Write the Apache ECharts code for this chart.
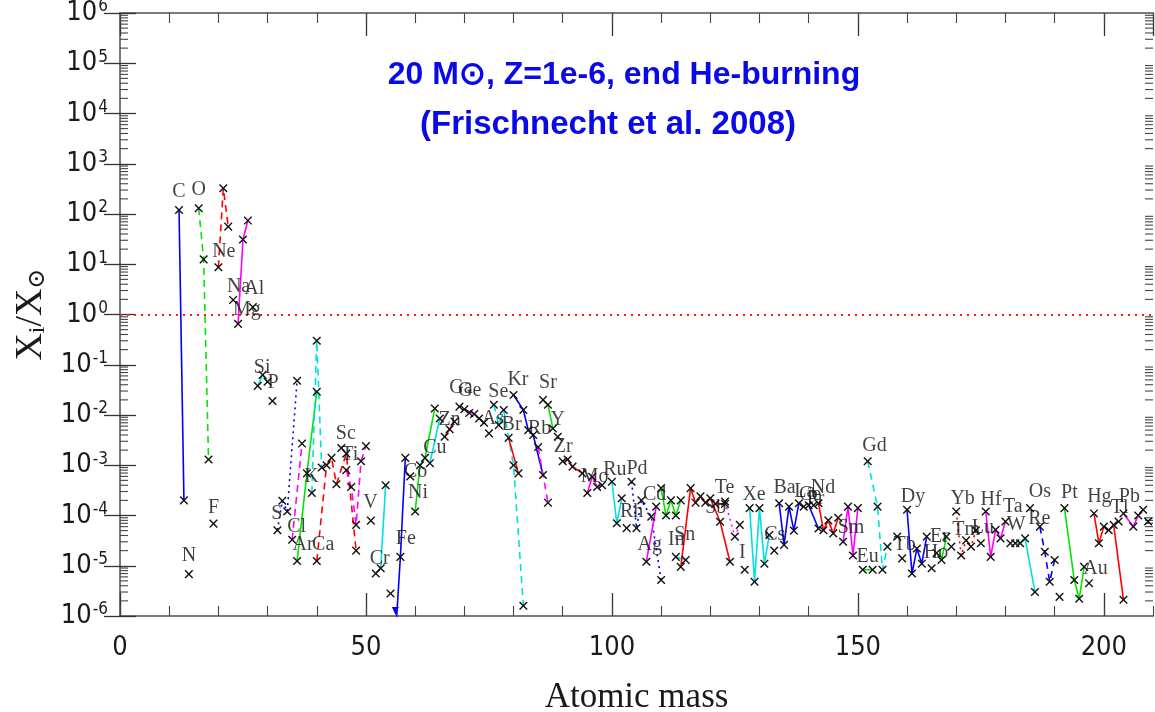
<!DOCTYPE html>
<html>
<head>
<meta charset="utf-8">
<script src="https://cdn.jsdelivr.net/npm/echarts@6/dist/echarts.min.js"></script>
<style>
html, body { margin: 0; padding: 0; background: #fff; }
#chart { width: 1155px; height: 712px; }
</style>
</head>
<body>
<div id="chart"></div>
<script>
// Element symbols, in order of atomic number
const elementNames = [
  'C', 'N', 'O', 'F', 'Ne', 'Na', 'Mg', 'Al', 'Si', 'P',
  'S', 'Cl', 'Ar', 'K', 'Ca', 'Sc', 'Ti', 'V', 'Cr', 'Mn',
  'Fe', 'Co', 'Ni', 'Cu', 'Zn', 'Ga', 'Ge', 'As', 'Se', 'Br',
  'Kr', 'Rb', 'Sr', 'Y', 'Zr', 'Mo', 'Ru', 'Rh', 'Pd', 'Ag',
  'Cd', 'In', 'Sn', 'Sb', 'Te', 'I', 'Xe', 'Cs', 'Ba', 'La',
  'Ce', 'Pr', 'Nd', 'Sm', 'Eu', 'Gd', 'Tb', 'Dy', 'Ho', 'Er',
  'Tm', 'Yb', 'Lu', 'Hf', 'Ta', 'W', 'Re', 'Os', 'Ir', 'Pt',
  'Au', 'Hg', 'Tl', 'Pb', 'Bi'
];

// Mass numbers of the plotted isotopes of each element
const massNumbers = [
  [12, 13], [14], [16, 17, 18], [19], [20, 21, 22], [23], [24, 25, 26], [27], [28, 29, 30], [31],
  [32, 33, 34, 36], [35, 37], [36, 38, 40], [39, 40, 41], [40, 42, 43, 44, 46, 48], [45], [46, 47, 48, 49, 50], [51], [52, 53, 54], [55],
  [56, 57, 58], [59], [60, 61, 62, 64], [63, 65], [66, 67, 68], [69, 71], [70, 72, 73, 74], [75], [76, 77, 78, 80, 82], [79, 81],
  [80, 82, 83, 84, 86], [85, 87], [86, 87, 88], [89], [90, 91, 92, 94], [95, 96, 97, 98], [100, 101, 102], [103], [104, 105, 106, 108, 110], [107, 109],
  [110, 111, 112, 113, 114], [113, 115], [114, 116, 117, 118, 119, 120, 122, 124], [121, 123], [123, 125, 126], [127], [128, 129, 130, 131, 132], [133], [134, 135, 136, 137, 138], [139],
  [140, 142], [141], [142, 143, 144, 145, 146], [147, 148, 149, 150], [151, 153], [152, 154, 155, 156, 158], [159], [160, 161, 162, 163, 164], [165], [166, 167, 168],
  [169], [170, 171, 172, 173, 174], [175], [176, 177, 178, 179, 180], [181], [182, 183, 184, 186], [185], [187, 188, 189, 190], [191], [192, 194, 195, 196],
  [197], [198, 199, 200, 201, 202, 204], [203], [204, 206, 207, 208], [209]
];

// Abundance ratios X_i / X_sun, same layout as massNumbers
const ratios = [
  [120, 2.0e-4], [6.8e-6], [130, 12.5, 1.3e-3], [6.9e-5], [8.7, 325, 56], [1.95], [0.65, 31, 74], [1.4], [0.038, 0.063, 0.046], [0.019],
  [5.1e-5, 1.96e-4, 1.2e-4, 0.048], [3.3e-5, 2.7e-3], [1.24e-5, 6.9e-4, 0.029], [2.8e-4, 0.3, 9e-4], [1.24e-5, 1.0e-3, 1.4e-3, 4.2e-4, 1.7e-3, 2e-5], [2.2e-3], [8e-4, 3.7e-4, 6.5e-5, 1.2e-3, 2.4e-3], [7.9e-5], [7e-6, 8.9e-6, 4e-4], [2.8e-6],
  [4e-7, 1.5e-5, 1.4e-3], [6e-4], [1.2e-4, 1.0e-3, 1.4e-3, 0.0135], [1.1e-3, 8.5e-3], [3.7e-3, 5.2e-3, 7.4e-3], [0.0147, 0.011], [0.013, 0.0105, 8.5e-3, 7e-3], [4.3e-3], [0.016, 6.3e-3, 0.0126, 1e-3, 1.6e-6], [3.5e-3, 6.9e-4],
  [0.025, 0.0126, 5e-3, 4e-3, 6.4e-4], [2.3e-3, 1.8e-4], [0.02, 0.016, 5.4e-3], [3.7e-3], [1.2e-3, 1.3e-3, 9.4e-4, 6.9e-4], [2.8e-4, 5.9e-4, 3.7e-4, 4e-4], [4.7e-4, 7e-5, 2.2e-4], [5.6e-5], [4.7e-4, 5.6e-5, 2e-4, 9.5e-5, 5.2e-6], [1.2e-5, 1.5e-4],
  [3.5e-4, 1e-4, 2e-4, 1e-4, 2e-4], [1.5e-5, 1.3e-5], [9.5e-6, 3.5e-4, 1.8e-4, 2.4e-4, 1.8e-4, 2.2e-4, 7.5e-5, 1.2e-5], [1.7e-4, 1.7e-4], [1.9e-4, 3.8e-5, 6.5e-5], [8.3e-6], [1.4e-4, 4.8e-6, 1.4e-4, 1.1e-5, 4.1e-5], [2e-5], [1.75e-4, 2.6e-5, 1.5e-4, 5e-5, 1.75e-4], [1.5e-4],
  [1.6e-4, 5.5e-5], [1.6e-4], [1.75e-4, 5.1e-5, 8e-5, 4.4e-5, 9e-5], [3e-5, 1.5e-4, 1.6e-5, 1.4e-4], [8.3e-6, 8.3e-6], [1.2e-3, 1.5e-4, 8.3e-6, 2.4e-5, 3.8e-5], [1.4e-5], [1.3e-4, 7e-6, 2.2e-5, 1.1e-5, 3.8e-5], [8.9e-6], [1.8e-5, 1.3e-5, 3.8e-5],
  [2.4e-5], [1.2e-4, 1.6e-5, 3.2e-5, 2.4e-5, 5.1e-5], [2.8e-5], [1.2e-4, 1.5e-5, 5.2e-5, 3.5e-5, 7.6e-5], [2.8e-5], [2.8e-5, 2.8e-5, 3.5e-5, 3e-6], [1.4e-4], [6e-5, 1.9e-5, 4.8e-6, 1.3e-5], [2.4e-6], [1.4e-4, 5.2e-6, 2.2e-6, 9.5e-6],
  [4.5e-6], [1.1e-4, 2.8e-5, 6e-5, 5.1e-5, 6.5e-5, 2.1e-6], [7.6e-5], [1.1e-4, 6e-5, 1e-4, 1.3e-4], [7.6e-5]
];

// Where each element symbol is written (atomic mass, ratio); null = no symbol
const labelAnchors = [
  [12, 275], [14, 1.6e-5], [16, 300], [19, 1.4e-4], [21.1, 17.5], [24.1, 3.5], [25.8, 1.23], [27.3, 3.2], [28.9, 0.087], [31.1, 0.043],
  [31.9, 1.1e-4], [35.9, 6e-5], [37.2, 2.6e-5], [38.9, 5.9e-4], [41.3, 2.6e-5], [45.9, 4.2e-3], [46.7, 1.6e-3], [50.9, 1.8e-4], [52.8, 1.4e-5], null,
  [58.1, 3.4e-5], [60.1, 7.5e-4], [60.6, 2.8e-4], [64, 2.2e-3], [67, 8e-3], [69.3, 0.035], [71.1, 0.031], [75.8, 8.6e-3], [76.9, 0.029], [79.6, 6.3e-3],
  [80.9, 0.051], [85.3, 5.4e-3], [87, 0.043], [89, 8e-3], [90.1, 2.3e-3], [96.5, 5.9e-4], [100.6, 8e-4], [104, 1.2e-4], [105.1, 8.7e-4], [107.7, 2.6e-5],
  [108.7, 2.6e-4], [113.1, 3.3e-5], [114.8, 4.1e-5], [121.1, 1.4e-4], [122.9, 3.5e-4], [126.5, 1.8e-5], [128.9, 2.6e-4], [133.1, 4.1e-5], [135.1, 3.5e-4], [139.2, 3e-4],
  [140.3, 2.6e-4], [141.4, 2.2e-4], [142.9, 3.5e-4], [148.6, 5.6e-5], [152, 1.5e-5], [153.4, 2.5e-3], [159.5, 2.6e-5], [161.2, 2.4e-4], [165.9, 1.8e-5], [166.6, 3.8e-5],
  [172, 5.1e-5], [171.3, 2.2e-4], [175.4, 5.6e-5], [177.1, 2.1e-4], [181.5, 1.5e-4], [182.2, 6.5e-5], [186.9, 8.7e-5], [187, 3e-4], null, [193, 2.8e-4],
  [198.3, 8.9e-6], [199.1, 2.4e-4], [203.2, 1.4e-4], [205.2, 2.4e-4], null
];

// Tick labels
const xTickValues = [0, 50, 100, 150, 200];
const yDecades = [-6, -5, -4, -3, -2, -1, 0, 1, 2, 3, 4, 5, 6];

// Line colour and pattern joining the isotopes of each element
const BLUE = '#0000ff', GREEN = '#00e600', RED = '#ff0000', MAGENTA = '#ff00ff', CYAN = '#00e0e0';
const DASH = {solid: 'solid', dash: [7, 5], dot: [2, 4]};
const lineLook = {
  C: [BLUE, 'solid'], O: [GREEN, 'dash'], Ne: [RED, 'dash'], Mg: [MAGENTA, 'solid'], Si: [CYAN, 'solid'],
  S: [BLUE, 'dot'], Cl: [MAGENTA, 'dash'], Ar: [GREEN, 'solid'], K: [CYAN, 'dash'], Ca: [RED, 'dash'],
  Ti: [MAGENTA, 'dash'], Cr: [CYAN, 'solid'], Fe: [BLUE, 'solid'], Ni: [GREEN, 'solid'], Cu: [CYAN, 'solid'],
  Zn: [RED, 'solid'], Ga: [GREEN, 'dot'], Ge: [MAGENTA, 'solid'], Se: [CYAN, 'dash'], Br: [RED, 'solid'],
  Kr: [BLUE, 'solid'], Rb: [MAGENTA, 'dash'], Sr: [GREEN, 'solid'], Zr: [RED, 'solid'], Mo: [MAGENTA, 'solid'],
  Ru: [CYAN, 'solid'], Pd: [BLUE, 'dot'], Ag: [MAGENTA, 'solid'], Cd: [GREEN, 'solid'], In: [CYAN, 'solid'],
  Sn: [RED, 'solid'], Sb: [RED, 'dash'], Te: [MAGENTA, 'dot'], Xe: [CYAN, 'solid'], Ba: [BLUE, 'solid'],
  Ce: [BLUE, 'solid'], Nd: [RED, 'solid'], Sm: [MAGENTA, 'solid'], Eu: [GREEN, 'solid'], Gd: [CYAN, 'dash'],
  Dy: [BLUE, 'solid'], Er: [GREEN, 'solid'], Yb: [RED, 'dot'], Hf: [MAGENTA, 'solid'], W: [CYAN, 'solid'],
  Os: [BLUE, 'dash'], Pt: [GREEN, 'solid'], Hg: [RED, 'solid'], Pb: [MAGENTA, 'solid']
};

const Y_MIN = 1e-6, Y_MAX = 1e6;
const NUM_FONT = '"Liberation Sans Narrow", "DejaVu Sans Condensed", sans-serif';
const SERIF = '"Liberation Serif", "DejaVu Serif", serif';
const TITLE_FONT = '"Liberation Sans Narrow", "Liberation Sans", sans-serif';
const FRAME = '#7a7a7a';

// Isotope polylines, one line series per element with more than one isotope
const lineSeries = [];
elementNames.forEach((el, i) => {
  if (massNumbers[i].length < 2 || !lineLook[el]) return;
  const [color, dash] = lineLook[el];
  lineSeries.push({
    type: 'line',
    name: el,
    data: massNumbers[i].map((a, k) => [a, ratios[i][k]]),
    symbol: 'none',
    silent: true,
    clip: true,
    z: 2,
    lineStyle: {color: color, width: 1.6, type: DASH[dash]}
  });
});

// Every isotope as [A, ratio, element index]
const isotopePoints = [];
elementNames.forEach((el, i) => {
  massNumbers[i].forEach((a, k) => isotopePoints.push([a, ratios[i][k], i]));
});

// Minor ticks of the log axis: 2..9 times each power of ten
const minorTickValues = [];
for (let e = -6; e < 6; e++) for (let m = 2; m <= 9; m++) minorTickValues.push([0, m * Math.pow(10, e)]);

const labelData = [];
elementNames.forEach((el, i) => {
  if (labelAnchors[i]) labelData.push({name: el, value: labelAnchors[i]});
});

const xAxisBase = {
  type: 'value', min: 0, max: 210,
  axisLine: {show: true, lineStyle: {color: FRAME, width: 2}},
  splitLine: {show: false},
  axisLabel: {show: false}
};
const yAxisBase = {
  type: 'log', logBase: 10, min: Y_MIN, max: Y_MAX, interval: 1,
  axisLine: {show: true, lineStyle: {color: FRAME, width: 2}},
  axisTick: {show: true, inside: true, length: 16, lineStyle: {color: '#333', width: 1.3}},
  splitLine: {show: false},
  axisLabel: {show: false}
};

const option = {
  animation: false,
  backgroundColor: '#ffffff',
  grid: {left: 120, right: 2, top: 13, bottom: 96, containLabel: false, outerBoundsMode: 'none'},
  xAxis: [
    Object.assign({}, xAxisBase, {
      position: 'bottom', interval: 50,
      axisTick: {show: true, inside: true, length: 23, lineStyle: {color: '#333', width: 1.3}},
      axisLabel: {
        show: true, margin: 18, showMaxLabel: false,
        color: '#1a1a1a', fontSize: 27, fontFamily: NUM_FONT,
        formatter: v => (xTickValues.indexOf(v) >= 0 ? String(v) : '')
      },
      name: 'Atomic mass', nameLocation: 'middle', nameGap: 64,
      nameTextStyle: {fontSize: 35, fontFamily: SERIF, color: '#1a1a1a'}
    }),
    Object.assign({}, xAxisBase, {
      position: 'bottom', interval: 10,
      axisTick: {show: true, inside: true, length: 10, lineStyle: {color: '#444', width: 1.1}}
    }),
    Object.assign({}, xAxisBase, {
      position: 'top', interval: 50,
      axisTick: {show: true, inside: true, length: 23, lineStyle: {color: '#333', width: 1.3}}
    }),
    Object.assign({}, xAxisBase, {
      position: 'top', interval: 10,
      axisTick: {show: true, inside: true, length: 10, lineStyle: {color: '#444', width: 1.1}}
    })
  ],
  yAxis: [
    Object.assign({}, yAxisBase, {
      position: 'left',
      axisLabel: {
        show: true, margin: 12,
        formatter: v => '{b|10}{s|' + Math.round(Math.log10(v)) + '}',
        rich: {
          b: {fontSize: 27, fontFamily: NUM_FONT, color: '#1a1a1a'},
          s: {fontSize: 17, fontFamily: NUM_FONT, color: '#1a1a1a', verticalAlign: 'top', padding: [0, 0, 12, 1]}
        }
      },
      name: '{x|X}{sub|i}{x|/X}{sub|\u2299}',
      nameLocation: 'middle', nameGap: 70, nameRotate: 90,
      nameTextStyle: {
        rich: {
          x: {fontSize: 38, fontFamily: SERIF, color: '#1a1a1a'},
          sub: {fontSize: 24, fontFamily: SERIF, color: '#1a1a1a', verticalAlign: 'bottom', padding: [13, 0, 0, 0]}
        }
      }
    }),
    Object.assign({}, yAxisBase, {position: 'right'})
  ],
  graphic: [
    {
      type: 'text', x: 624, y: 75, silent: true,
      style: {
        text: '20 M\u2299, Z=1e-6, end He-burning', align: 'center', verticalAlign: 'middle',
        fontSize: 32, fontWeight: 'bold', fontFamily: TITLE_FONT, fill: '#0a0ae6'
      }
    },
    {
      type: 'text', x: 608, y: 125, silent: true,
      style: {
        text: '(Frischnecht et al. 2008)', align: 'center', verticalAlign: 'middle',
        fontSize: 33, fontWeight: 'bold', fontFamily: TITLE_FONT, fill: '#0a0ae6'
      }
    }
  ],
  series: [
    // Solar reference level
    {
      type: 'line', data: [], silent: true,
      markLine: {
        silent: true, symbol: ['none', 'none'], label: {show: false},
        lineStyle: {color: '#ff2020', type: [2, 5], width: 1.8},
        data: [{yAxis: 1}]
      }
    },
    ...lineSeries,
    // Minor ticks on both sides of the log axis
    {
      type: 'custom', silent: true, z: 3,
      data: minorTickValues,
      renderItem: (params, api) => {
        const cs = params.coordSys;
        const y = api.coord([0, api.value(1)])[1];
        const st = {stroke: '#444', lineWidth: 1.1};
        return {type: 'group', children: [
          {type: 'line', shape: {x1: cs.x, y1: y, x2: cs.x + 8, y2: y}, style: st},
          {type: 'line', shape: {x1: cs.x + cs.width - 8, y1: y, x2: cs.x + cs.width, y2: y}, style: st}
        ]};
      }
    },
    // Isotope markers; values below the axis get an arrow at the bottom edge
    {
      type: 'custom', silent: true, z: 5, clip: true,
      data: isotopePoints,
      renderItem: (params, api) => {
        const a = api.value(0), r = api.value(1);
        if (r < Y_MIN) {
          const el = elementNames[api.value(2)];
          const col = lineLook[el] ? lineLook[el][0] : '#000';
          const p = api.coord([a, Y_MIN]);
          return {type: 'polygon', shape: {points: [[p[0] - 3.5, p[1] - 9], [p[0] + 3.5, p[1] - 9], [p[0], p[1] - 1]]}, style: {fill: col}};
        }
        const p = api.coord([a, r]);
        const s = 3.8;
        const st = {stroke: '#111', lineWidth: 1.4};
        return {type: 'group', children: [
          {type: 'line', shape: {x1: p[0] - s, y1: p[1] - s, x2: p[0] + s, y2: p[1] + s}, style: st},
          {type: 'line', shape: {x1: p[0] - s, y1: p[1] + s, x2: p[0] + s, y2: p[1] - s}, style: st}
        ]};
      }
    },
    // Element symbols
    {
      type: 'scatter', silent: true, z: 6,
      symbolSize: 1, itemStyle: {color: 'rgba(0,0,0,0)'},
      data: labelData,
      label: {
        show: true, position: 'inside', formatter: '{b}',
        fontSize: 20, fontFamily: SERIF, color: '#111'
      }
    }
  ]
};

const chart = echarts.init(document.getElementById('chart'), null, {renderer: 'canvas'});
chart.setOption(option);
</script>
</body>
</html>
